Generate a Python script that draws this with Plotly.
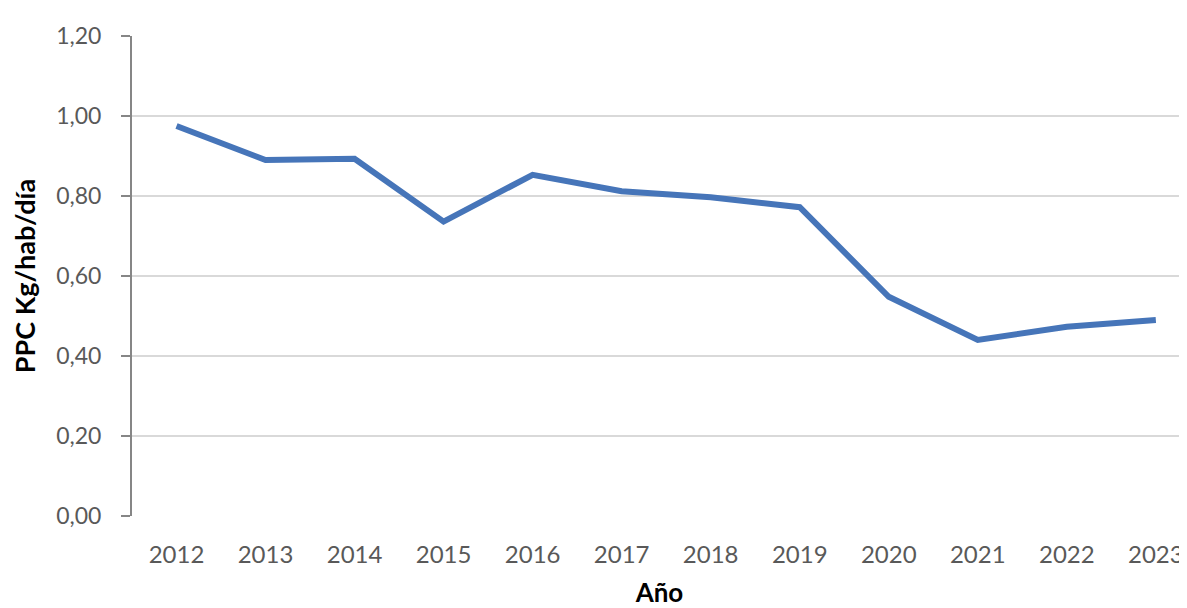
import plotly.graph_objects as go

years = ["2012", "2013", "2014", "2015", "2016", "2017", "2018", "2019", "2020", "2021", "2022", "2023"]
ppc = [0.975, 0.89, 0.893, 0.736, 0.853, 0.812, 0.797, 0.772, 0.548, 0.44, 0.473, 0.49]
y_ticks = [0.0, 0.2, 0.4, 0.6, 0.8, 1.0, 1.2]
y_labels = ["0,00", "0,20", "0,40", "0,60", "0,80", "1,00", "1,20"]

xpos = list(range(len(years)))

fig = go.Figure()
fig.add_trace(go.Scatter(
    x=xpos, y=ppc, mode="lines",
    line=dict(color="#4675B9", width=6),
    showlegend=False,
))

fig.update_layout(
    width=1179, height=600,
    margin=dict(l=124, r=0, t=28, b=92),
    paper_bgcolor="white", plot_bgcolor="white",
    font=dict(family="Lato, Open Sans, sans-serif", color="#595959"),
    xaxis=dict(
        range=[-0.5, 11.35],
        automargin=False,
        tickmode="array", tickvals=xpos, ticktext=years,
        showgrid=False, zeroline=False,
        showline=False,
        ticks="", tickfont=dict(size=24, color="#595959"),
        ticklabelstandoff=22,
        title=dict(text="<b>Año</b>", font=dict(size=26, color="#000000"), standoff=24),
    ),
    yaxis=dict(
        range=[0, 1.2],
        automargin=False,
        tickmode="array", tickvals=y_ticks, ticktext=y_labels,
        showgrid=True, gridcolor="#D9D9D9", gridwidth=1.5,
        zeroline=False,
        showline=True, linecolor="#868686", linewidth=2,
        ticks="outside", ticklen=9, tickcolor="#868686", tickwidth=2,
        tickfont=dict(size=23, color="#595959"),
        ticklabelstandoff=15,
        title=dict(text="<b>PPC Kg/hab/día</b>", font=dict(size=27, color="#000000"), standoff=16),
    ),
)

fig.write_html("out.html")
